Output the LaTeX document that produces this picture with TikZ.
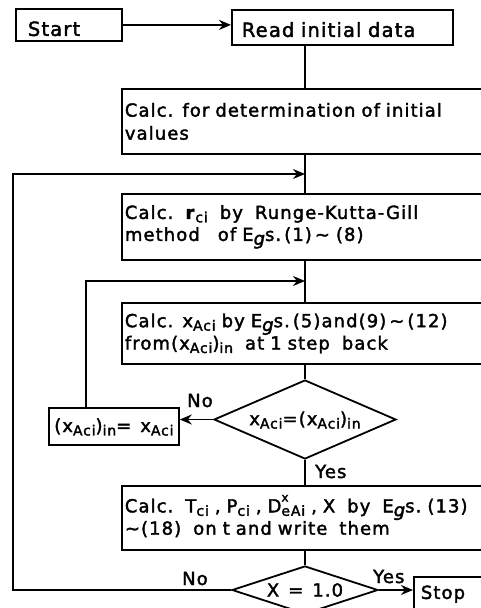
\documentclass[tikz,border=0pt]{standalone}
\usepackage{fontspec}
\setmainfont{DejaVu Sans}[LetterSpace=6,FakeBold=2]
\usetikzlibrary{shapes.geometric,arrows.meta}
\newcommand\sbs[1]{\smash{\raisebox{-0.35ex}{\fontsize{14}{14}\selectfont #1}}}
\newcommand\spsb[2]{\smash{\rlap{\raisebox{1.1ex}{\fontsize{12}{12}\selectfont #1}}\raisebox{-0.35ex}{\fontsize{14}{14}\selectfont #2}}}
\newcommand\Eg{E\raisebox{-0.4ex}{\itshape g}s}
\newcommand\tld{\textasciitilde}
\newcommand\fs[2]{\fontsize{#1}{#2}\selectfont\spaceskip=9pt plus 1pt\relax}
\begin{document}
\begin{tikzpicture}[x=1pt,y=-1pt,
  box/.style={draw, line width=1.8pt, anchor=north west, inner ysep=0pt, align=left, font=\fs{18}{23}},
  dec/.style={draw, diamond, line width=1.8pt, inner sep=0pt, font=\fs{18}{23}},
  lab/.style={font=\fs{18}{23}, inner sep=0pt, anchor=base west},
  conn/.style={line width=1.7pt},
  arr/.style={conn, -{Stealth[length=12pt,width=10pt]}}
]
\useasboundingbox (0,0) rectangle (481,608);
\fill[white] (0,0) rectangle (481,608);
\clip (0,0) rectangle (481,608);

\coordinate (ax) at (305,0);
\coordinate (lp1) at (13,174);
\coordinate (lp2) at (86,281);

\node[box, minimum height=32pt, text width=82pt, inner xsep=12pt, text height=22pt, text depth=0pt, font=\fs{19.5}{23}] (start) at (15,8) {Start};
\node[box, minimum height=35pt, text width=201pt, inner xsep=10pt, text height=19pt, text depth=0pt, font=\fs{19.5}{23}] (read) at (231,9) {Read\ initial\ data};
\node[box, minimum height=65pt, text width=368pt, inner xsep=3pt] (init) at (121,88) {Calc. for determination of initial\\values};
\node[box, minimum height=66pt, text width=368pt, inner xsep=3pt, font=\fs{18}{22}] (rk) at (121,193) {Calc.\ \ \textbf{r}\sbs{ci}\ \ by\ \ Runge-Kutta-Gill\\method\ \ \ of\ \Eg.\,(1)\,\tld\ (8)};
\node[box, minimum height=61pt, text width=368pt, inner xsep=3pt, font=\fs{18}{20}] (xa) at (121,302) {Calc. x\sbs{Aci} by \Eg.\,(5)and(9)\,\tld\,(12)\\from(x\sbs{Aci})\sbs{in}\ \ at 1 step\ \ back};
\node[box, minimum width=130pt, minimum height=37pt, inner xsep=2pt] (upd) at (48,407) {(x\sbs{Aci})\sbs{in}= x\sbs{Aci}};
\node[dec, minimum width=182pt, minimum height=79pt, aspect=2.3] (d1) at (305,419.5) {x\sbs{Aci}=(x\sbs{Aci})\sbs{in}};
\node[box, minimum height=64pt, text width=368pt, inner xsep=3pt, font=\fs{18}{20}] (tc) at (121,485) {Calc.\ \ T\sbs{ci}\ , P\sbs{ci}\ , D\spsb{x}{eAi}\ , X\ \ by\ \ \Eg.\ (13)\\\tld(18)\ \ on t and write\ \ them};
\node[dec, minimum width=146pt, minimum height=48pt, aspect=3.04] (d2) at (305,590) {X = 1.0};
\node[box, inner xsep=7pt, text width=70pt, text height=22pt, text depth=20pt] (stop) at (413,576) {Stop};

\node[lab] (no1) at (187,407) {No};
\node[lab] (yes1) at (315,478) {Yes};
\node[lab] (no2) at (182,585) {No};
\node[lab] (yes2) at (373,583) {Yes};

\draw[arr] (start.east) -- (start.east -| read.west);
\draw[conn] (read.south -| ax) -- (init.north -| ax);
\draw[conn] (init.south -| ax) -- (rk.north -| ax);
\draw[conn] (rk.south -| ax) -- (xa.north -| ax);
\draw[conn] (xa.south -| ax) -- (d1.north);
\draw[arr] (d1.west) -- (d1.west -| upd.east);
\draw[arr] (upd.north -| lp2) -- (lp2) -- (lp2 -| ax);
\draw[conn] (d1.south) -- (tc.north -| ax);
\draw[conn] (tc.south -| ax) -- (d2.north);
\draw[arr] (d2.west) -- (d2.west -| lp1) -- (lp1) -- (lp1 -| ax);
\draw[arr] (d2.east) -- (d2.east -| stop.west);
\end{tikzpicture}
\end{document}
